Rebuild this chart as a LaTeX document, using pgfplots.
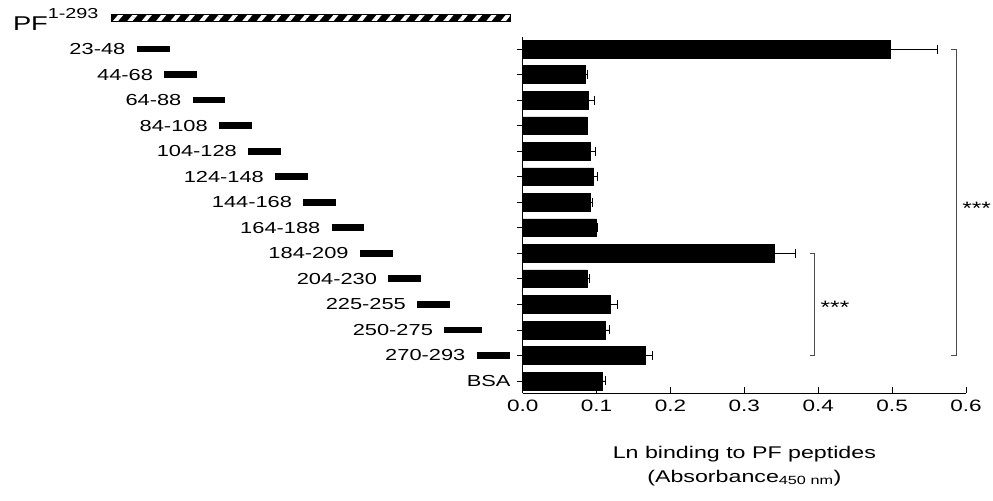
\documentclass[border=0pt]{standalone}
\usepackage{fontspec}
\setmainfont{Liberation Sans}[FakeStretch=1.37]
\usepackage{pgfplots}
\usepackage{pgfplotstable}
\pgfplotsset{compat=1.18}
\usetikzlibrary{patterns.meta}

\pgfplotstableread{
y v e
13 0.498 0.063
12 0.085 0.002
11 0.089 0.008
10 0.087 0.001
9 0.092 0.006
8 0.096 0.005
7 0.092 0.003
6 0.100 0.001
5 0.340 0.029
4 0.087 0.003
3 0.118 0.010
2 0.112 0.006
1 0.166 0.009
0 0.107 0.005
}\bindata

\tikzset{lab/.style={anchor=east, inner sep=0pt, xshift=-8bp, font=\fontsize{16}{19}\selectfont}}

\begin{document}
\begin{tikzpicture}
\useasboundingbox (0,-108bp) rectangle (993bp,393bp);
% left: peptide map
\begin{axis}[at={(0,0)}, anchor=south west, scale only axis,
  width=510bp, height=356bp, xmin=-80.9, xmax=293, ymin=-0.47, ymax=13.47,
  hide axis, clip=false]
\addplot[draw=black, line width=0.8bp, preaction={fill=black},
  pattern={Lines[angle=50,distance=11bp,line width=4bp]}, pattern color=white]
  coordinates {(1,14.07) (293,14.07) (293,14.35) (1,14.35)} -- cycle;
\node[anchor=base east, inner sep=0pt, xshift=-13bp, yshift=-12.5bp,
  font=\fontsize{20}{22}\selectfont] at (axis cs:1,14.21)
  {PF\raisebox{12.5bp}{\fontsize{14.5}{16}\selectfont 1-293}};
\addplot[line width=6.7bp] coordinates {(19.3,13) (43.7,13)} node[pos=0,lab]{23-48};
\addplot[line width=6.7bp] coordinates {(39.6,12) (63.3,12)} node[pos=0,lab]{44-68};
\addplot[line width=6.7bp] coordinates {(60.4,11) (84.1,11)} node[pos=0,lab]{64-88};
\addplot[line width=6.7bp] coordinates {(79.7,10) (103.6,10)} node[pos=0,lab]{84-108};
\addplot[line width=6.7bp] coordinates {(101.1,9) (125.1,9)} node[pos=0,lab]{104-128};
\addplot[line width=6.7bp] coordinates {(120.9,8) (145.1,8)} node[pos=0,lab]{124-148};
\addplot[line width=6.7bp] coordinates {(141.5,7) (165.4,7)} node[pos=0,lab]{144-168};
\addplot[line width=6.7bp] coordinates {(162.3,6) (186.2,6)} node[pos=0,lab]{164-188};
\addplot[line width=6.7bp] coordinates {(183.0,5) (207.0,5)} node[pos=0,lab]{184-209};
\addplot[line width=6.7bp] coordinates {(203.8,4) (227.5,4)} node[pos=0,lab]{204-230};
\addplot[line width=6.7bp] coordinates {(225.0,3) (249.0,3)} node[pos=0,lab]{225-255};
\addplot[line width=6.7bp] coordinates {(244.8,2) (272.3,2)} node[pos=0,lab]{250-275};
\addplot[line width=6.7bp] coordinates {(268.6,1) (293.0,1)} node[pos=0,lab]{270-293};
\end{axis}
% right: binding
\begin{axis}[at={(522.7bp,0)}, anchor=south west, scale only axis,
  width=443.3bp, height=356bp, xmin=0, xmax=0.6, ymin=-0.47, ymax=13.47,
  axis x line*=bottom, axis y line*=left, clip=false,
  xtick={0,0.1,0.2,0.3,0.4,0.5,0.6}, ytick={0,1,...,13},
  yticklabels={BSA,,,,,,,,,,,,,},
  /pgf/number format/assume math mode=true,
  xticklabel style={yshift=-4bp, /pgf/number format/.cd, fixed, fixed zerofill, precision=1, /tikz/.cd},
  tick align=inside, major tick length=5.5bp, ytick style={xshift=-5.5bp},
  tick style={black, line width=0.8bp}, axis line style={black, line width=0.8bp},
  ticklabel style={font=\fontsize{16.5}{19}\selectfont},
  yticklabel style={inner sep=0pt, xshift=-12bp, font=\fontsize{16}{19}\selectfont},
  xlabel={Ln binding to PF peptides\\(Absorbance\textsubscript{450 nm})},
  xlabel style={align=center, yshift=-27bp, font=\fontsize{17}{24}\selectfont}]
\addplot[xbar, bar width=17.7bp, fill=black, draw=black,
  error bars/.cd, x dir=plus, x explicit, error mark=|,
  error bar style={black, line width=0.8bp},
  error mark options={black, mark size=4.5bp, line width=0.8bp}]
  table[x=v, y=y, x error=e] \bindata;
\addplot[black!70, line width=1bp] coordinates {(0.580,13) (0.587,13) (0.587,1) (0.580,1)};
\addplot[black!70, line width=1bp] coordinates {(0.389,5) (0.3955,5) (0.3955,1) (0.389,1)};
\node[anchor=base, inner sep=0pt, font=\fontsize{18}{20}\selectfont] at (axis cs:0.6145,6.5) {***};
\node[anchor=base, inner sep=0pt, font=\fontsize{18}{20}\selectfont] at (axis cs:0.4227,2.66) {***};
\end{axis}
\end{tikzpicture}
\end{document}
